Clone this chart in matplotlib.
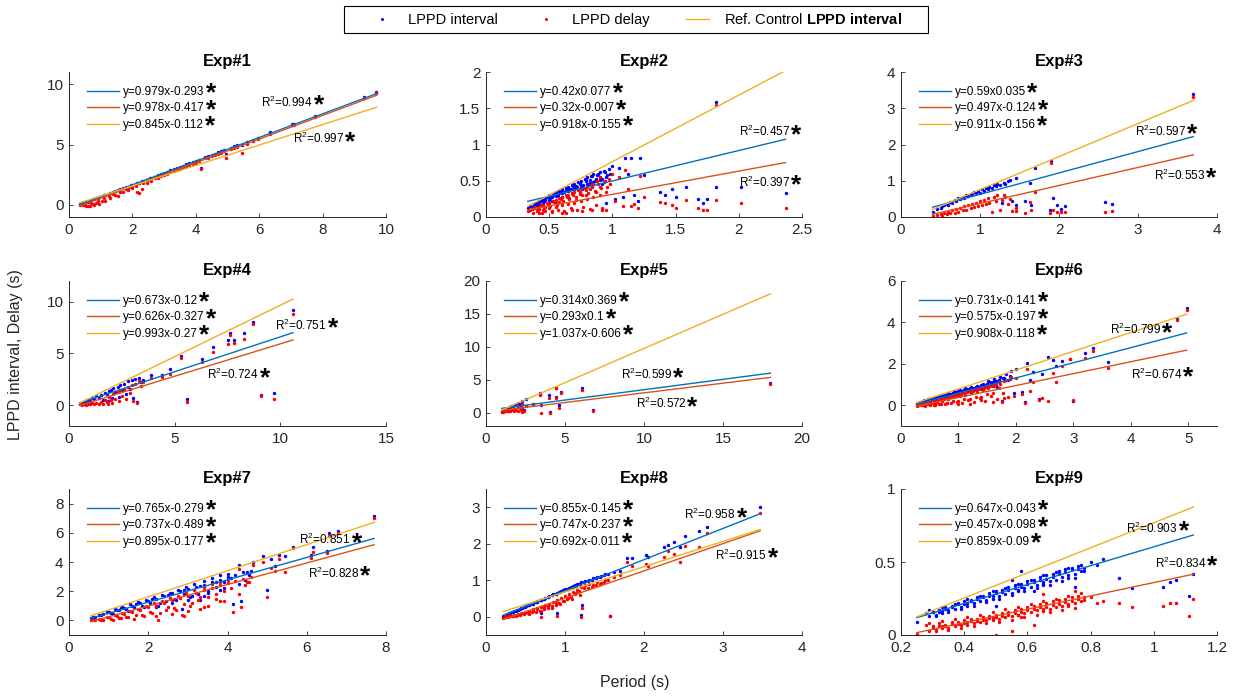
import matplotlib
matplotlib.use('Agg')
import matplotlib.pyplot as plt
from matplotlib.lines import Line2D
from matplotlib.patches import Rectangle
from matplotlib.ticker import FuncFormatter, MultipleLocator
import numpy as np

plt.rcParams['font.family'] = ['Liberation Sans', 'DejaVu Sans']
plt.rcParams['mathtext.fontset'] = 'custom'
plt.rcParams['mathtext.rm'] = 'Liberation Sans'
plt.rcParams['mathtext.bf'] = 'Liberation Sans:bold'
plt.rcParams['mathtext.it'] = 'Liberation Sans:italic'

# ---------------- data ----------------
titles = ['Exp#1', 'Exp#2', 'Exp#3', 'Exp#4', 'Exp#5', 'Exp#6', 'Exp#7', 'Exp#8', 'Exp#9']

interval_eq = ['y=0.979x-0.293', 'y=0.42x0.077', 'y=0.59x0.035', 'y=0.673x-0.12', 'y=0.314x0.369',
               'y=0.731x-0.141', 'y=0.765x-0.279', 'y=0.855x-0.145', 'y=0.647x-0.043']
delay_eq = ['y=0.978x-0.417', 'y=0.32x-0.007', 'y=0.497x-0.124', 'y=0.626x-0.327', 'y=0.293x0.1',
            'y=0.575x-0.197', 'y=0.737x-0.489', 'y=0.747x-0.237', 'y=0.457x-0.098']
ref_eq = ['y=0.845x-0.112', 'y=0.918x-0.155', 'y=0.911x-0.156', 'y=0.993x-0.27', 'y=1.037x-0.606',
          'y=0.908x-0.118', 'y=0.895x-0.177', 'y=0.692x-0.011', 'y=0.859x-0.09']

interval_slope = [0.979, 0.42, 0.59, 0.673, 0.314, 0.731, 0.765, 0.855, 0.647]
interval_icpt = [-0.293, 0.077, 0.035, -0.12, 0.369, -0.141, -0.279, -0.145, -0.043]
delay_slope = [0.978, 0.32, 0.497, 0.626, 0.293, 0.575, 0.737, 0.747, 0.457]
delay_icpt = [-0.417, -0.007, -0.124, -0.327, 0.1, -0.197, -0.489, -0.237, -0.098]
ref_slope = [0.845, 0.918, 0.911, 0.993, 1.037, 0.908, 0.895, 0.692, 0.859]
ref_icpt = [-0.112, -0.155, -0.156, -0.27, -0.606, -0.118, -0.177, -0.011, -0.09]

r2_first = ['0.994', '0.457', '0.597', '0.751', '0.599', '0.799', '0.851', '0.958', '0.903']
r2_second = ['0.997', '0.397', '0.553', '0.724', '0.572', '0.674', '0.828', '0.915', '0.834']

exp1_period = [0.35, 0.45, 0.55, 0.65, 0.75, 0.85, 0.95, 1.05, 1.15, 1.3, 1.45, 1.55, 1.7, 1.85, 2.0, 2.15, 2.2,
               2.3, 2.45, 2.6, 2.8, 3.0, 3.2, 3.4, 3.6, 3.8, 4.0, 4.15, 4.3, 4.5, 4.7, 4.9, 4.95, 5.2, 5.45,
               5.6, 5.8, 5.95, 6.35, 7.05, 7.1, 7.75, 9.3, 9.7,
               0.5, 0.6, 0.7, 0.8, 0.9, 1.1, 1.25, 1.4, 1.6, 1.8, 1.95, 2.1, 2.35, 2.55, 2.7, 2.9, 3.1, 3.3,
               3.5, 3.7, 3.9, 4.1, 4.4, 4.6, 4.8, 5.1, 5.3]
exp1_interval = [0.05, 0.15, 0.25, 0.33, 0.45, 0.55, 0.62, 0.74, 0.8, 0.98, 1.12, 1.2, 1.38, 1.5, 1.68, 1.78,
                 1.85, 1.95, 2.08, 2.25, 2.45, 2.65, 2.85, 3.05, 3.25, 3.45, 3.62, 3.05, 3.95, 4.15, 4.35,
                 4.55, 4.2, 4.85, 5.0, 5.2, 5.4, 5.55, 6.0, 6.7, 6.7, 7.4, 8.95, 9.35,
                 0.2, 0.28, 0.4, 0.5, 0.6, 0.78, 0.92, 1.08, 1.28, 1.48, 1.62, 1.77, 2.0, 2.2, 2.35, 2.55,
                 2.75, 2.95, 3.15, 3.35, 3.55, 3.72, 4.05, 4.25, 4.45, 4.75, 4.95]
exp1_delay = [-0.02, 0.0, -0.05, -0.1, 0.05, 0.2, 0.1, 0.35, 0.3, 0.6, 0.85, 0.7, 1.1, 1.25, 1.4, 1.1, 1.0,
              1.3, 1.85, 2.0, 2.25, 2.45, 2.7, 2.9, 3.1, 3.3, 3.5, 3.0, 3.85, 4.05, 4.25, 4.45, 3.85, 4.7,
              4.3, 5.05, 5.3, 5.45, 5.9, 6.6, 6.65, 7.3, 8.85, 9.25,
              0.02, -0.08, 0.15, 0.0, 0.35, 0.55, 0.75, 0.9, 1.1, 1.3, 1.45, 1.6, 1.85, 2.05, 2.2, 2.4,
              2.6, 2.8, 3.0, 3.2, 3.4, 3.6, 3.9, 4.1, 4.3, 4.6, 4.8]

exp2_period = [0.33, 0.35, 0.37, 0.38, 0.40, 0.40, 0.42, 0.43, 0.45, 0.45, 0.47, 0.48, 0.50, 0.50, 0.52, 0.53,
               0.55, 0.55, 0.57, 0.58, 0.60, 0.60, 0.62, 0.63, 0.65, 0.65, 0.67, 0.68, 0.70, 0.70, 0.72, 0.73,
               0.75, 0.75, 0.77, 0.78, 0.80, 0.80, 0.82, 0.83, 0.85, 0.85, 0.87, 0.88, 0.90, 0.90, 0.92, 0.93,
               0.95, 0.95, 0.97, 1.00, 1.02, 1.05, 1.08, 1.10, 1.12, 1.15, 1.17, 1.20, 1.22, 1.25, 1.38, 1.42,
               1.47, 1.50, 1.58, 1.68, 1.72, 1.75, 1.82, 1.82, 2.02, 2.37,
               0.36, 0.39, 0.41, 0.44, 0.46, 0.49, 0.51, 0.54, 0.56, 0.59, 0.61, 0.64, 0.66, 0.69, 0.71, 0.74,
               0.76, 0.79, 0.81, 0.84, 0.86, 0.89, 0.91, 0.94, 0.96, 0.98, 0.44, 0.52, 0.60, 0.68, 0.76, 0.84,
               0.92, 0.42, 0.50, 0.58, 0.66, 0.74, 0.82, 0.90, 0.47, 0.55, 0.63, 0.71, 0.79, 0.87]
exp2_interval = [0.12, 0.15, 0.13, 0.17, 0.16, 0.20, 0.19, 0.22, 0.20, 0.25, 0.23, 0.27, 0.24, 0.30, 0.27, 0.31,
                 0.29, 0.34, 0.31, 0.36, 0.33, 0.38, 0.35, 0.40, 0.36, 0.42, 0.38, 0.44, 0.39, 0.46, 0.41, 0.48,
                 0.42, 0.50, 0.44, 0.52, 0.45, 0.55, 0.47, 0.57, 0.48, 0.60, 0.50, 0.58, 0.51, 0.62, 0.53, 0.64,
                 0.55, 0.20, 0.66, 0.70, 0.25, 0.68, 0.28, 0.82, 0.60, 0.82, 0.30, 0.22, 0.82, 0.58, 0.35, 0.30,
                 0.38, 0.28, 0.42, 0.25, 0.20, 0.25, 0.41, 1.58, 0.41, 0.33,
                 0.14, 0.18, 0.18, 0.23, 0.22, 0.28, 0.26, 0.32, 0.30, 0.35, 0.34, 0.39, 0.37, 0.43, 0.40, 0.47,
                 0.43, 0.51, 0.46, 0.56, 0.49, 0.60, 0.52, 0.62, 0.58, 0.60, 0.17, 0.22, 0.28, 0.33, 0.38, 0.43,
                 0.46, 0.21, 0.27, 0.33, 0.39, 0.45, 0.51, 0.55, 0.26, 0.32, 0.37, 0.43, 0.49, 0.53]
exp2_delay = [0.08, 0.10, 0.06, 0.12, 0.08, 0.13, 0.06, 0.15, 0.10, 0.17, 0.08, 0.19, 0.12, 0.20, 0.07, 0.22,
              0.14, 0.24, 0.10, 0.26, 0.16, 0.28, 0.08, 0.30, 0.18, 0.31, 0.12, 0.33, 0.20, 0.35, 0.09, 0.37,
              0.22, 0.38, 0.14, 0.40, 0.25, 0.42, 0.11, 0.44, 0.28, 0.46, 0.17, 0.50, 0.30, 0.55, 0.13, 0.48,
              0.35, 0.10, 0.52, 0.60, 0.22, 0.55, 0.15, 0.65, 0.38, 0.15, 0.18, 0.12, 0.57, 0.27, 0.21, 0.20,
              0.16, 0.12, 0.24, 0.12, 0.09, 0.10, 0.24, 1.55, 0.20, 0.13,
              0.11, 0.14, 0.09, 0.16, 0.12, 0.18, 0.15, 0.21, 0.17, 0.25, 0.22, 0.27, 0.25, 0.30, 0.28, 0.34,
              0.30, 0.37, 0.33, 0.41, 0.36, 0.45, 0.40, 0.50, 0.42, 0.46, 0.06, 0.08, 0.06, 0.10, 0.08, 0.10,
              0.09, 0.11, 0.16, 0.21, 0.26, 0.32, 0.38, 0.42, 0.14, 0.20, 0.06, 0.24, 0.30, 0.35]

exp3_period = [0.40, 0.45, 0.50, 0.52, 0.55, 0.58, 0.60, 0.62, 0.65, 0.68, 0.70, 0.72, 0.75, 0.78, 0.80, 0.82,
               0.85, 0.88, 0.90, 0.92, 0.95, 0.98, 1.00, 1.02, 1.05, 1.08, 1.10, 1.12, 1.15, 1.18, 1.20, 1.22,
               1.25, 1.28, 1.30, 1.32, 1.35, 1.38, 1.40, 1.45, 1.46, 1.57, 1.63, 1.65, 1.70, 1.88, 1.90, 1.93,
               1.97, 2.03, 2.07, 2.58, 2.67, 3.70]
exp3_interval = [0.14, 0.22, 0.26, 0.30, 0.32, 0.36, 0.33, 0.42, 0.40, 0.47, 0.44, 0.52, 0.50, 0.56, 0.52, 0.60,
                 0.58, 0.64, 0.60, 0.68, 0.65, 0.72, 0.66, 0.76, 0.72, 0.80, 0.76, 0.84, 0.80, 0.88, 0.85, 0.90,
                 0.88, 0.38, 0.95, 0.92, 1.00, 1.02, 0.45, 1.08, 0.32, 0.45, 0.95, 0.32, 1.35, 0.18, 1.55, 0.53,
                 0.33, 0.22, 0.30, 0.41, 0.37, 3.38]
exp3_delay = [0.03, 0.05, 0.08, 0.04, 0.12, 0.07, 0.15, 0.10, 0.18, 0.12, 0.22, 0.15, 0.25, 0.18, 0.30, 0.20,
              0.33, 0.24, 0.37, 0.27, 0.40, 0.30, 0.45, 0.33, 0.48, 0.36, 0.52, 0.40, 0.15, 0.55, 0.44, 0.60,
              0.20, 0.48, 0.62, 0.55, 0.35, 0.50, 0.17, 0.17, 0.25, 0.12, 0.42, 0.20, 0.70, 0.10, 1.50, 0.20,
              0.15, 0.15, 0.13, 0.15, 0.16, 3.32]

exp4_period = [0.50, 0.60, 0.70, 0.80, 0.90, 1.00, 1.10, 1.20, 1.30, 1.40, 1.50, 1.60, 1.70, 1.80, 1.85, 1.90,
               2.00, 2.05, 2.10, 2.20, 2.30, 2.35, 2.40, 2.50, 2.60, 2.70, 2.80, 2.90, 3.00, 3.05, 3.10, 3.20,
               3.30, 3.40, 3.50, 3.90, 4.40, 4.80, 5.30, 5.60, 6.30, 6.80, 7.50, 7.60, 7.80, 8.30, 8.70, 9.10,
               9.70, 10.60]
exp4_interval = [0.15, 0.20, 0.35, 0.40, 0.55, 0.45, 0.70, 0.60, 0.90, 0.75, 1.00, 0.50, 1.20, 1.10, 0.45, 1.40,
                 1.50, 0.70, 1.65, 1.30, 1.80, 0.80, 2.00, 1.50, 2.10, 1.10, 2.30, 1.60, 2.40, 0.70, 2.50, 0.30,
                 2.60, 2.20, 2.40, 2.90, 2.90, 3.50, 4.80, 0.60, 4.50, 5.60, 6.30, 7.00, 6.30, 7.00, 8.00, 1.00,
                 1.15, 9.20]
exp4_delay = [0.10, 0.05, 0.08, 0.02, 0.10, 0.08, 0.20, 0.12, 0.25, 0.10, 0.35, 0.15, 0.55, 0.30, 0.10, 0.80,
              0.50, 0.20, 1.10, 0.60, 1.30, 0.40, 1.50, 0.90, 1.60, 0.60, 1.80, 1.20, 2.00, 0.40, 2.10, 0.20,
              2.30, 1.90, 2.20, 2.60, 2.70, 3.00, 4.60, 0.30, 4.20, 5.10, 5.90, 6.80, 6.00, 6.40, 7.80, 0.85,
              0.60, 8.80]

exp5_period = [1.00, 1.10, 1.20, 1.30, 1.40, 1.50, 1.60, 1.70, 1.75, 1.80, 1.90, 2.00, 2.05, 2.15, 2.20, 2.25,
               2.30, 2.40, 2.55, 3.00, 3.40, 3.45, 4.00, 4.05, 4.40, 4.45, 4.65, 4.75, 6.10, 6.80, 18.00]
exp5_interval = [0.30, 0.45, 0.55, 0.65, 0.80, 0.90, 1.00, 1.05, 0.60, 1.15, 1.25, 0.90, 1.45, 1.30, 1.00, 1.75,
                 0.60, 0.50, 2.10, 1.40, 3.00, 1.20, 2.70, 0.05, 3.80, 2.40, 1.20, 3.10, 3.70, 0.50, 4.55]
exp5_delay = [0.15, 0.10, 0.20, 0.25, 0.30, 0.25, 0.40, 0.50, 0.20, 0.60, 0.40, 0.30, 1.00, 0.70, 0.50, 1.40,
              0.10, 0.20, 1.10, 1.30, 2.70, 0.00, 2.20, 0.00, 3.70, 2.30, 0.80, 3.00, 3.50, 0.35, 4.40]

exp6_period = [0.27, 0.32, 0.37, 0.42, 0.47, 0.52, 0.57, 0.62, 0.67, 0.72, 0.77, 0.82, 0.87, 0.92, 0.97, 1.02,
               1.07, 1.12, 1.17, 1.22, 1.27, 1.32, 1.37, 1.42, 1.47, 1.52, 1.57, 1.62, 1.67, 1.72, 1.75, 1.77,
               1.82, 1.87, 1.92, 1.97, 2.00, 2.10, 2.15, 2.20, 2.25, 2.30, 2.40, 2.45, 2.55, 2.65, 2.70, 2.80,
               2.95, 3.00, 3.20, 3.35, 3.60, 4.80, 4.97,
               0.30, 0.35, 0.40, 0.45, 0.50, 0.55, 0.60, 0.65, 0.70, 0.75, 0.80, 0.85, 0.90, 0.95, 1.00, 1.05,
               1.10, 1.15, 1.20, 1.25, 1.30, 1.35, 1.40, 1.45, 1.50, 1.55, 1.60, 1.65, 1.70, 1.80, 1.90, 0.60,
               0.80, 1.00, 1.20, 1.40, 1.60,
               0.40, 0.60, 0.80, 1.00, 1.20, 1.40, 1.60, 1.80, 0.50, 0.70, 0.90, 1.10, 1.30, 1.50, 1.70]
exp6_interval = [0.05, 0.12, 0.18, 0.22, 0.28, 0.32, 0.30, 0.42, 0.45, 0.50, 0.48, 0.60, 0.55, 0.68, 0.62, 0.75,
                 0.70, 0.82, 0.75, 0.90, 0.80, 0.95, 0.88, 1.05, 0.95, 1.15, 1.05, 1.25, 0.90, 1.35, 0.20, 1.30,
                 1.50, 1.20, 1.65, 0.60, 1.75, 0.65, 0.15, 2.05, 1.20, 1.60, 0.30, 1.50, 2.35, 2.20, 1.90, 2.15,
                 2.25, 0.20, 2.50, 2.75, 2.10, 4.15, 4.72,
                 0.10, 0.15, 0.20, 0.25, 0.27, 0.33, 0.36, 0.40, 0.42, 0.47, 0.52, 0.53, 0.58, 0.62, 0.65, 0.70,
                 0.72, 0.78, 0.80, 0.85, 0.88, 0.90, 0.95, 1.00, 1.02, 1.10, 1.10, 1.15, 1.20, 1.25, 1.40, 0.32,
                 0.45, 0.55, 0.70, 0.80, 0.95,
                 0.24, 0.38, 0.50, 0.68, 0.82, 0.98, 1.12, 1.32, 0.30, 0.44, 0.57, 0.74, 0.86, 1.05, 1.22]
exp6_delay = [-0.02, 0.00, 0.02, -0.03, 0.05, 0.10, 0.00, 0.15, 0.05, 0.22, 0.08, 0.30, 0.12, 0.38, 0.18, 0.45,
              0.10, 0.52, 0.25, 0.60, 0.15, 0.65, 0.35, 0.75, 0.20, 0.85, 0.45, 0.95, 0.30, 1.05, 0.15, 0.60,
              1.20, 0.40, 1.35, 0.45, 1.30, 0.55, 0.10, 1.75, 0.70, 1.10, 0.25, 0.35, 0.20, 1.55, 1.10, 1.90,
              2.25, 0.25, 2.30, 2.60, 1.80, 4.10, 4.60,
              0.03, 0.05, 0.08, 0.10, 0.15, 0.18, 0.22, 0.25, 0.28, 0.32, 0.35, 0.40, 0.45, 0.48, 0.52, 0.55,
              0.60, 0.62, 0.68, 0.70, 0.75, 0.78, 0.82, 0.85, 0.90, 0.95, 1.00, 1.05, 1.10, 1.15, 1.25, 0.05,
              0.10, 0.05, 0.30, 0.40, 0.60,
              0.00, 0.02, 0.12, 0.20, 0.05, 0.25, 0.15, 0.35, 0.00, 0.06, 0.22, 0.30, 0.42, 0.55, 0.85]

exp7_period = [0.55, 0.65, 0.75, 0.85, 0.95, 1.05, 1.15, 1.25, 1.35, 1.45, 1.55, 1.65, 1.75, 1.85, 1.95, 2.05,
               2.15, 2.25, 2.35, 2.45, 2.55, 2.65, 2.75, 2.85, 2.90, 2.95, 3.05, 3.15, 3.25, 3.30, 3.40, 3.50,
               3.60, 3.70, 3.80, 3.90, 4.00, 4.15, 4.30, 4.35, 4.45, 4.55, 4.65, 4.90, 5.00, 5.10, 5.20, 5.30,
               5.45, 5.65, 6.10, 6.15, 6.50, 6.55, 6.80, 7.70,
               0.60, 0.80, 1.00, 1.20, 1.40, 1.60, 1.80, 2.00, 2.20, 2.40, 2.60, 2.80, 3.00, 3.20, 3.40, 3.60,
               3.80, 4.00, 4.20, 4.40, 4.60, 1.10, 1.50, 1.90, 2.30, 2.70, 3.10, 3.50, 3.90, 4.30,
               1.30, 1.70, 2.10, 2.50, 2.90, 3.30, 3.70, 4.10, 4.50, 2.20, 2.60, 3.00, 3.40, 3.80]
exp7_interval = [0.15, 0.25, 0.35, 0.45, 0.60, 0.50, 0.80, 0.70, 0.95, 0.80, 1.10, 0.90, 1.25, 1.00, 1.40, 1.20,
                 1.60, 1.00, 1.75, 1.30, 1.90, 1.50, 2.10, 0.80, 1.80, 2.30, 1.60, 2.50, 1.80, 1.40, 2.70, 2.00,
                 2.90, 2.30, 3.10, 2.60, 3.20, 1.10, 3.80, 1.30, 2.80, 3.10, 4.00, 4.40, 2.10, 4.20, 3.70, 4.50,
                 4.40, 5.05, 4.50, 5.00, 4.75, 6.00, 6.15, 7.15,
                 0.25, 0.40, 0.55, 0.70, 0.85, 1.00, 1.20, 1.35, 1.50, 1.70, 1.85, 2.00, 2.15, 2.30, 2.45, 2.65,
                 2.80, 2.95, 3.10, 3.30, 3.40, 0.45, 0.65, 0.90, 1.20, 1.40, 1.70, 1.90, 2.20, 2.50,
                 0.85, 1.15, 1.45, 1.75, 2.05, 2.35, 2.60, 2.90, 3.30, 0.90, 1.20, 1.40, 1.70, 2.10]
exp7_delay = [0.05, 0.00, 0.10, 0.05, 0.20, 0.10, 0.35, 0.15, 0.50, 0.25, 0.65, 0.10, 0.80, 0.40, 1.00, 0.55,
              1.20, 0.00, 1.35, 0.70, 1.55, 0.85, 1.70, 0.40, 0.30, 1.90, 1.00, 2.10, 1.40, 0.80, 2.30, 1.60,
              2.50, 1.50, 2.60, 2.00, 2.80, 0.60, 3.50, 0.90, 2.40, 2.60, 3.80, 4.00, 1.60, 3.60, 3.40, 4.20,
              3.30, 4.95, 4.30, 4.70, 4.65, 5.80, 6.00, 7.00,
              0.02, 0.05, 0.20, 0.30, 0.45, 0.55, 0.70, 0.90, 1.00, 1.20, 1.40, 1.55, 1.70, 1.90, 2.10, 2.20,
              2.40, 2.55, 2.70, 2.85, 3.00, 0.05, 0.20, 0.30, 0.50, 0.70, 1.20, 1.00, 1.30, 1.80,
              0.15, 0.35, 0.50, 0.90, 1.10, 1.60, 1.80, 2.20, 2.60, 0.30, 0.45, 0.65, 0.90, 1.30]

exp8_period = [0.22, 0.25, 0.28, 0.30, 0.33, 0.35, 0.38, 0.40, 0.43, 0.45, 0.48, 0.50, 0.53, 0.55, 0.58, 0.60,
               0.63, 0.65, 0.68, 0.70, 0.70, 0.73, 0.75, 0.78, 0.80, 0.83, 0.85, 0.88, 0.90, 0.90, 0.93, 0.95,
               0.98, 1.00, 1.03, 1.05, 1.08, 1.10, 1.13, 1.15, 1.18, 1.20, 1.20, 1.22, 1.25, 1.30, 1.35, 1.40,
               1.45, 1.50, 1.55, 1.57, 1.62, 1.70, 1.78, 1.85, 2.02, 2.05, 2.25, 2.30, 2.38, 2.45, 2.52, 2.70,
               2.80, 3.47,
               0.24, 0.29, 0.34, 0.39, 0.44, 0.49, 0.54, 0.59, 0.64, 0.69, 0.74, 0.79, 0.84, 0.89, 0.94, 0.99,
               1.04, 1.09, 1.14, 1.19, 1.24, 1.29, 1.34, 1.39, 1.44, 1.49]
exp8_interval = [0.02, 0.05, 0.08, 0.10, 0.12, 0.15, 0.17, 0.19, 0.22, 0.24, 0.26, 0.29, 0.31, 0.33, 0.36, 0.38,
                 0.40, 0.43, 0.45, 0.47, 0.10, 0.50, 0.52, 0.54, 0.57, 0.59, 0.61, 0.63, 0.66, 0.10, 0.68, 0.70,
                 0.73, 0.75, 0.77, 0.80, 0.82, 0.84, 0.87, 0.89, 0.91, 0.94, 0.05, 0.33, 0.97, 1.01, 1.05, 1.09,
                 1.12, 1.16, 1.18, 0.03, 1.22, 1.26, 1.60, 1.60, 1.70, 1.65, 1.90, 1.97, 2.05, 1.90, 2.22, 2.35,
                 2.45, 3.02,
                 0.05, 0.10, 0.14, 0.19, 0.23, 0.27, 0.32, 0.36, 0.41, 0.45, 0.50, 0.54, 0.59, 0.63, 0.67, 0.72,
                 0.76, 0.81, 0.85, 0.89, 0.94, 0.98, 1.02, 1.06, 1.10, 1.14]
exp8_delay = [-0.03, 0.00, -0.02, 0.03, 0.01, 0.06, 0.03, 0.08, 0.05, 0.11, 0.07, 0.14, 0.09, 0.17, 0.12, 0.20,
              0.14, 0.24, 0.17, 0.28, 0.00, 0.21, 0.32, 0.25, 0.36, 0.29, 0.41, 0.33, 0.46, 0.02, 0.38, 0.51,
              0.43, 0.57, 0.48, 0.62, 0.55, 0.68, 0.62, 0.74, 0.70, 0.82, 0.00, 0.25, 0.88, 0.90, 0.87, 0.95,
              0.93, 1.00, 1.02, 0.02, 1.10, 1.15, 1.50, 1.40, 1.45, 1.40, 1.65, 1.80, 1.72, 1.50, 1.95, 1.90,
              2.30, 2.85,
              0.01, 0.04, 0.02, 0.06, 0.10, 0.13, 0.07, 0.17, 0.20, 0.16, 0.26, 0.30, 0.24, 0.38, 0.34, 0.44,
              0.52, 0.50, 0.66, 0.60, 0.78, 0.80, 0.82, 0.88, 0.90, 0.95]

exp9_period = [0.25, 0.28, 0.29, 0.30, 0.31, 0.32, 0.32, 0.33, 0.34, 0.35, 0.36, 0.36, 0.37, 0.38, 0.39, 0.40,
               0.40, 0.41, 0.42, 0.43, 0.44, 0.44, 0.45, 0.46, 0.47, 0.48, 0.48, 0.49, 0.50, 0.50, 0.51, 0.52,
               0.52, 0.53, 0.54, 0.55, 0.55, 0.56, 0.56, 0.57, 0.58, 0.58, 0.59, 0.60, 0.60, 0.61, 0.62, 0.62,
               0.63, 0.64, 0.64, 0.65, 0.65, 0.66, 0.67, 0.68, 0.68, 0.69, 0.70, 0.71, 0.72, 0.72, 0.73, 0.74,
               0.75, 0.75, 0.76, 0.76, 0.77, 0.78, 0.80, 0.82, 0.84, 0.89, 0.93, 1.03, 1.05, 1.07, 1.11, 1.125,
               0.30, 0.34, 0.38, 0.42, 0.46, 0.50, 0.54, 0.58, 0.62, 0.66, 0.70, 0.74, 0.78, 0.33, 0.41, 0.49,
               0.57, 0.65, 0.73,
               0.29, 0.33, 0.37, 0.41, 0.45, 0.49, 0.53, 0.57, 0.61, 0.65, 0.69, 0.73, 0.77,
               0.31, 0.35, 0.39, 0.43, 0.47, 0.51, 0.55, 0.59, 0.63, 0.67, 0.71, 0.75]
exp9_interval = [0.09, 0.15, 0.13, 0.16, 0.14, 0.17, 0.16, 0.15, 0.19, 0.17, 0.20, 0.19, 0.18, 0.22, 0.19, 0.23,
                 0.215, 0.20, 0.24, 0.22, 0.26, 0.245, 0.23, 0.27, 0.24, 0.29, 0.27, 0.25, 0.30, 0.20, 0.27, 0.31,
                 0.295, 0.28, 0.33, 0.29, 0.38, 0.34, 0.32, 0.31, 0.35, 0.44, 0.32, 0.37, 0.35, 0.33, 0.38, 0.30,
                 0.34, 0.40, 0.375, 0.36, 0.34, 0.41, 0.37, 0.42, 0.40, 0.38, 0.44, 0.40, 0.45, 0.43, 0.41, 0.46,
                 0.42, 0.33, 0.47, 0.455, 0.44, 0.46, 0.50, 0.48, 0.52, 0.39, 0.32, 0.33, 0.36, 0.38, 0.27, 0.42,
                 0.155, 0.18, 0.21, 0.23, 0.26, 0.285, 0.31, 0.33, 0.36, 0.385, 0.42, 0.45, 0.44, 0.165, 0.22,
                 0.265, 0.30, 0.35, 0.39,
                 0.17, 0.19, 0.215, 0.245, 0.27, 0.30, 0.325, 0.35, 0.38, 0.41, 0.43, 0.46, 0.48,
                 0.13, 0.155, 0.18, 0.20, 0.225, 0.25, 0.275, 0.30, 0.32, 0.345, 0.37, 0.39]
exp9_delay = [0.01, 0.07, 0.03, 0.06, 0.04, 0.08, 0.065, 0.05, 0.07, 0.05, 0.09, 0.075, 0.06, 0.09, 0.07, 0.10,
              0.085, 0.07, 0.11, 0.08, 0.11, 0.095, 0.09, 0.12, 0.10, 0.13, 0.115, 0.10, 0.14, 0.00, 0.11, 0.15,
              0.13, 0.12, 0.16, 0.13, 0.03, 0.17, 0.15, 0.14, 0.18, 0.12, 0.15, 0.19, 0.17, 0.16, 0.20, 0.07,
              0.17, 0.21, 0.19, 0.18, 0.28, 0.22, 0.18, 0.23, 0.205, 0.19, 0.24, 0.20, 0.25, 0.225, 0.21, 0.26,
              0.22, 0.30, 0.27, 0.245, 0.23, 0.26, 0.26, 0.22, 0.23, 0.22, 0.19, 0.20, 0.22, 0.22, 0.13, 0.25,
              0.045, 0.06, 0.075, 0.095, 0.105, 0.125, 0.14, 0.16, 0.175, 0.19, 0.21, 0.235, 0.24, 0.06, 0.09,
              0.115, 0.135, 0.165, 0.20,
              0.08, 0.095, 0.11, 0.125, 0.14, 0.16, 0.175, 0.195, 0.215, 0.235, 0.25, 0.27, 0.29,
              0.025, 0.035, 0.05, 0.065, 0.08, 0.09, 0.105, 0.125, 0.14, 0.155, 0.17, 0.185]

periods = [exp1_period, exp2_period, exp3_period, exp4_period, exp5_period, exp6_period, exp7_period,
           exp8_period, exp9_period]
intervals = [exp1_interval, exp2_interval, exp3_interval, exp4_interval, exp5_interval, exp6_interval,
             exp7_interval, exp8_interval, exp9_interval]
delays = [exp1_delay, exp2_delay, exp3_delay, exp4_delay, exp5_delay, exp6_delay, exp7_delay, exp8_delay,
          exp9_delay]

legend_labels = ['LPPD interval', 'LPPD delay', r'Ref. Control $\mathbf{LPPD\ interval}$']

# ---------------- layout ----------------
W, H = 1240, 696
col_left = [69, 486, 901]
col_w = [317, 316, 316]
row_top = [72, 281, 489]
row_h = [145, 145, 146]

xlims = [(0, 10), (0, 2.5), (0, 4), (0, 15), (0, 20), (0, 5.5), (0, 8), (0, 4), (0.2, 1.2)]
ylims = [(-1, 11), (0, 2), (0, 4), (-2, 12), (-2, 20), (-1, 6), (-1, 9), (-0.5, 3.5), (0, 1)]
xsteps = [2, 0.5, 1, 5, 5, 1, 2, 1, 0.2]
ysteps = [5, 0.5, 1, 5, 5, 2, 2, 1, 0.5]
r2_pos1 = [(6.06, 8.5), (2.0, 1.18), (2.96, 2.37), (9.75, 7.76), (8.52, 5.78), (3.64, 3.66), (5.81, 5.54),
           (2.51, 2.8), (0.913, 0.732)]
r2_pos2 = [(7.06, 5.5), (2.0, 0.48), (3.2, 1.15), (6.54, 2.95), (9.47, 1.4), (4.0, 1.5), (6.02, 3.24),
           (2.9, 1.68), (1.003, 0.492)]

BLUE = '#0072BD'
ORANGE = '#D95319'
YELLOW = '#EDB120'
AXC = '#262626'
MS = 6

fig = plt.figure(figsize=(W / 100, H / 100), dpi=100)

fmt = FuncFormatter(lambda v, p: f'{v:g}')


def add_star(ax, txt):
    ax.annotate('*', xy=(1, 0), xycoords=txt, xytext=(0.8, -2.0), textcoords='offset points',
                fontsize=19, fontweight='bold', ha='left', va='baseline', color='black',
                annotation_clip=False, zorder=10)


for i in range(9):
    r, c = divmod(i, 3)
    ax = fig.add_axes([col_left[c] / W, 1 - (row_top[r] + row_h[r]) / H, col_w[c] / W, row_h[r] / H])
    per = np.array(periods[i])
    iv = np.array(intervals[i])
    dl = np.array(delays[i])
    ax.scatter(per, iv, s=MS, c='#0000ff', linewidths=0, zorder=2)
    ax.scatter(per, dl, s=MS, c='#ff0000', linewidths=0, zorder=2)
    xs = np.array([per.min(), per.max()])
    l1, = ax.plot(xs, interval_slope[i] * xs + interval_icpt[i], color=BLUE, lw=1.0, zorder=3)
    l2, = ax.plot(xs, delay_slope[i] * xs + delay_icpt[i], color=ORANGE, lw=1.0, zorder=3)
    l3, = ax.plot(xs, ref_slope[i] * xs + ref_icpt[i], color=YELLOW, lw=1.0, zorder=3)

    ax.set_xlim(*xlims[i])
    ax.set_ylim(*ylims[i])
    ax.xaxis.set_major_locator(MultipleLocator(xsteps[i]))
    ax.yaxis.set_major_locator(MultipleLocator(ysteps[i]))
    ax.xaxis.set_major_formatter(fmt)
    ax.yaxis.set_major_formatter(fmt)
    for s in ['top', 'right']:
        ax.spines[s].set_visible(False)
    for s in ['left', 'bottom']:
        ax.spines[s].set_color(AXC)
        ax.spines[s].set_linewidth(0.7)
    ax.tick_params(direction='in', length=3, width=0.6, colors=AXC, labelsize=11, pad=4)
    ax.set_title(titles[i], fontsize=12, fontweight='bold', pad=4)

    leg = ax.legend([l1, l2, l3], [interval_eq[i], delay_eq[i], ref_eq[i]], loc='upper left',
                    bbox_to_anchor=(0.057, 0.905), frameon=False, fontsize=8.5, handlelength=2.7,
                    handletextpad=0.35, labelspacing=0.38, borderpad=0, borderaxespad=0)
    leg.set_zorder(5)
    for t in leg.get_texts():
        add_star(ax, t)

    t1 = ax.text(r2_pos1[i][0], r2_pos1[i][1], r'R$^2$=' + r2_first[i], fontsize=8.5, ha='left',
                 va='center', zorder=4)
    t2 = ax.text(r2_pos2[i][0], r2_pos2[i][1], r'R$^2$=' + r2_second[i], fontsize=8.5, ha='left',
                 va='center', zorder=4)
    add_star(ax, t1)
    add_star(ax, t2)

# shared labels
fig.text(16 / W, 1 - 355 / H, 'LPPD interval, Delay (s)', rotation=90, ha='center', va='center',
         fontsize=11.5, color=AXC)
fig.text(635 / W, 1 - 683 / H, 'Period (s)', ha='center', va='center', fontsize=11.5, color=AXC)

# top legend
handles = [Line2D([], [], ls='none', marker='o', ms=2.2, mfc='#0000ff', mec='none'),
           Line2D([], [], ls='none', marker='o', ms=2.2, mfc='#ff0000', mec='none'),
           Line2D([], [], color=YELLOW, lw=1.0)]
fig.legend(handles, legend_labels, loc='center', bbox_to_anchor=(636 / W, 1 - 19.5 / H), ncol=3,
           frameon=False, fontsize=10.5, handlelength=1.6, handletextpad=1.0, columnspacing=2.5,
           borderpad=0)
fig.add_artist(Rectangle((344 / W, 1 - 33 / H), (928 - 344) / W, 27 / H, transform=fig.transFigure,
                         fill=False, ec='black', lw=0.8))

fig.savefig('out.png', dpi=100)
